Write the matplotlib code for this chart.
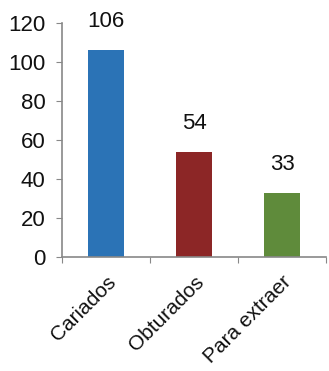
import matplotlib.pyplot as plt

categorias = ['Cariados', 'Obturados', 'Para extraer']
valores = [106, 54, 33]
colores = ['#2b73b6', '#8c2626', '#5f8b3b']

plt.rcParams['font.family'] = ['Liberation Sans', 'DejaVu Sans']

fig = plt.figure(figsize=(3.29, 3.71), dpi=100)
ax = fig.add_axes([62 / 329, 114 / 371, 264 / 329, 234 / 371])

x = range(len(categorias))
bars = ax.bar(x, valores, width=0.4, color=colores)

for b, v in zip(bars, valores):
    ax.annotate(str(v), (b.get_x() + b.get_width() / 2, v),
                xytext=(0, 13), textcoords='offset points',
                ha='center', va='bottom', fontsize=16, color='#111111')

ax.set_xlim(-0.5, 2.5)
ax.set_ylim(0, 120)
ax.set_yticks(range(0, 121, 20))
ax.set_xticks([-0.5, 0.5, 1.5, 2.5], minor=False)
ax.set_xticklabels([])
ax.set_xticks(list(x), minor=True)
ax.set_xticklabels(categorias, minor=True, rotation=45, ha='right',
                   rotation_mode='anchor', fontsize=15, color='#111111')
ax.tick_params(axis='x', which='minor', length=0, pad=11)
ax.tick_params(axis='x', which='major', length=4, color='#888888', direction='out')
ax.tick_params(axis='y', length=4, color='#888888', labelsize=16,
               labelcolor='#111111', pad=8)

for s in ['top', 'right']:
    ax.spines[s].set_visible(False)
for s in ['left', 'bottom']:
    ax.spines[s].set_color('#888888')
    ax.spines[s].set_linewidth(1.2)

fig.savefig('out.png', dpi=100)
